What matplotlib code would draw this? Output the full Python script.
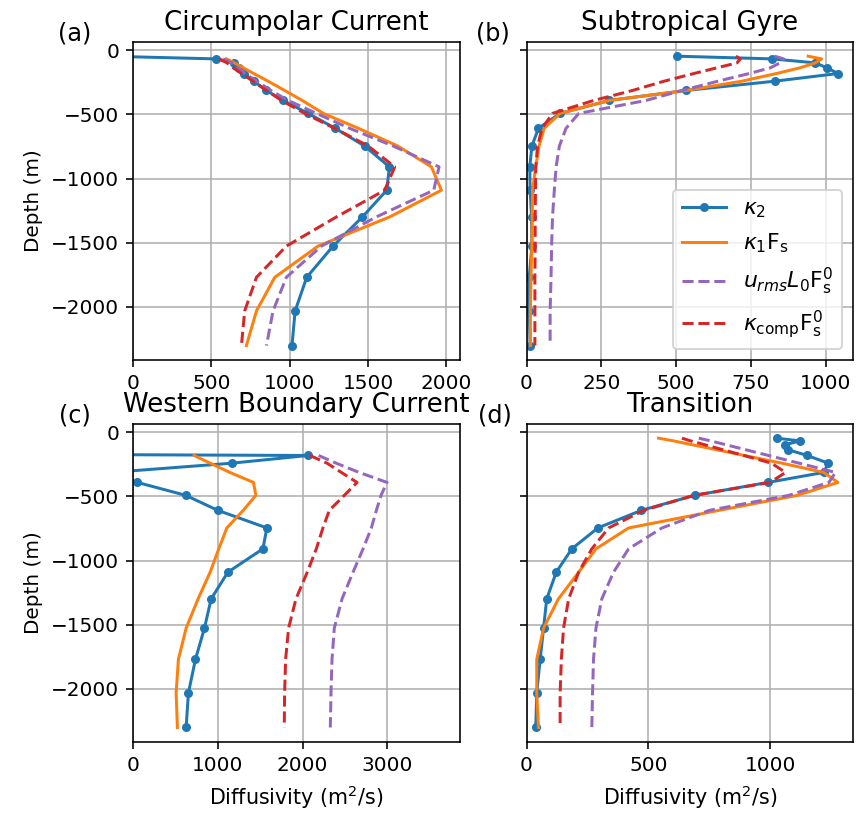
import numpy as np
import matplotlib
matplotlib.use('Agg')
import matplotlib.pyplot as plt

nan = np.nan

# model depth levels (m)
depth = [-46, -67, -98, -137, -181, -241, -313, -391, -492, -609, -746,
         -909, -1091, -1299, -1527, -1770, -2032, -2302]

# (a) Circumpolar Current
k2_a = [-165, 528, 645, 677, 709, 771, 852, 958, 1118, 1292, 1478, 1637,
        1620, 1465, 1277, 1109, 1035, 1015]
k1fs_a = [nan, 596, 648, 705, 770, 862, 968, 1080, 1215, 1440, 1690, 1905,
          1969, 1639, 1181, 905, 788, 724]
url_a = [nan, 575, 630, 670, 715, 790, 880, 990, 1171, 1384, 1660, 1954,
         1920, 1554, 1203, 979, 894, 852]
kcomp_a = [nan, 549, 600, 640, 692, 766, 852, 948, 1096, 1288, 1501, 1671,
           1607, 1299, 979, 788, 713, 692]

# (b) Subtropical Gyre
k2_b = [503, 821, 966, 1005, 1042, 830, 534, 277, 112, 40, 18, 11, 12, 17,
        18, 9, 9, 12]
k1fs_b = [942, 987, 966, 914, 836, 720, 534, 277, 112, 59, 42, 31, 20, 19,
          18, 15, 13, 13]
url_b = [830, 860, 848, 815, 745, 640, 520, 400, 175, 132, 110, 99, 93, 87,
         84, 82, 79, 79]
kcomp_b = [700, 715, 704, 636, 560, 460, 355, 225, 87, 52, 37, 31, 30, 29,
           29, 28, 28, 28]

# (c) Western Boundary Current
k2_c = [-3000, -7000, -11000, -14000, 2063, 1165, -256, 51, 622, 1000, 1578,
        1531, 1118, 921, 842, 736, 653, 626]
k1fs_c = [nan, nan, nan, nan, 720, 910, 1141, 1420, 1448, 1299, 1106, 1011,
          909, 767, 626, 535, 508, 523]
url_c = [nan, nan, nan, nan, 2188, 2395, 2665, 2995, 2924, 2869, 2810, 2712,
         2594, 2464, 2373, 2346, 2334, 2326]
kcomp_c = [nan, nan, nan, nan, 2085, 2287, 2456, 2641, 2491, 2314, 2239, 2161,
           2054, 1921, 1834, 1799, 1787, 1783]

# (d) Transition
k2_d = [1026, 1122, 1060, 1075, 1152, 1238, 1220, 991, 690, 471, 293, 186,
        122, 83, 70, 56, 42, 38]
k1fs_d = [542, 603, 682, 782, 894, 1048, 1220, 1278, 1111, 790, 419, 285,
          214, 131, 70, 42, 42, 49]
url_d = [707, 755, 820, 901, 993, 1118, 1268, 1241, 1076, 750, 556, 419,
         357, 309, 285, 275, 271, 268]
kcomp_d = [638, 673, 733, 807, 892, 1005, 1063, 1000, 686, 481, 337, 268,
           214, 173, 152, 143, 138, 138]

titles = ['Circumpolar Current', 'Subtropical Gyre',
          'Western Boundary Current', 'Transition']
panel_tags = ['(a)', '(b)', '(c)', '(d)']
tag_x = [-0.229, -0.154, -0.228, -0.150]
xmax = [2085, 1092, 3850, 1340]

data = [(k2_a, k1fs_a, url_a, kcomp_a),
        (k2_b, k1fs_b, url_b, kcomp_b),
        (k2_c, k1fs_c, url_c, kcomp_c),
        (k2_d, k1fs_d, url_d, kcomp_d)]

fig, axs = plt.subplots(2, 2, figsize=(860/144, 816/144), dpi=144)
fig.subplots_adjust(left=0.1547, right=0.9919, top=0.9489, bottom=0.0907,
                    wspace=0.205, hspace=0.2)

for i, ax in enumerate(axs.flat):
    k2, k1fs, url, kcomp = data[i]
    ax.plot(k2, depth, '.-', color='C0', ms=7, label=r'$\kappa_2$')
    ax.plot(k1fs, depth, '-', color='C1', label=r'$\kappa_1\mathrm{F_s}$')
    ax.plot(url, depth, '--', color='C4', label=r'$u_{rms}L_0\mathrm{F_s^0}$')
    ax.plot(kcomp, depth, '--', color='C3',
            label=r'$\kappa_\mathrm{comp}\mathrm{F_s^0}$')
    ax.set_xlim(0, xmax[i])
    ax.set_ylim(-2415, 67)
    ax.grid(True)
    ax.set_title(titles[i], fontsize=13)
    ax.text(tag_x[i], 1.025, panel_tags[i], transform=ax.transAxes,
            fontsize=12, va='center', ha='left')
    if i % 2 == 0:
        ax.set_ylabel('Depth (m)')
    else:
        ax.tick_params(labelleft=False)
    if i >= 2:
        ax.set_xlabel(r'Diffusivity (m$^2$/s)', fontsize=10.3)

axs[0, 1].legend(loc='lower right', fontsize=11)

plt.savefig('out.png', dpi=144)
